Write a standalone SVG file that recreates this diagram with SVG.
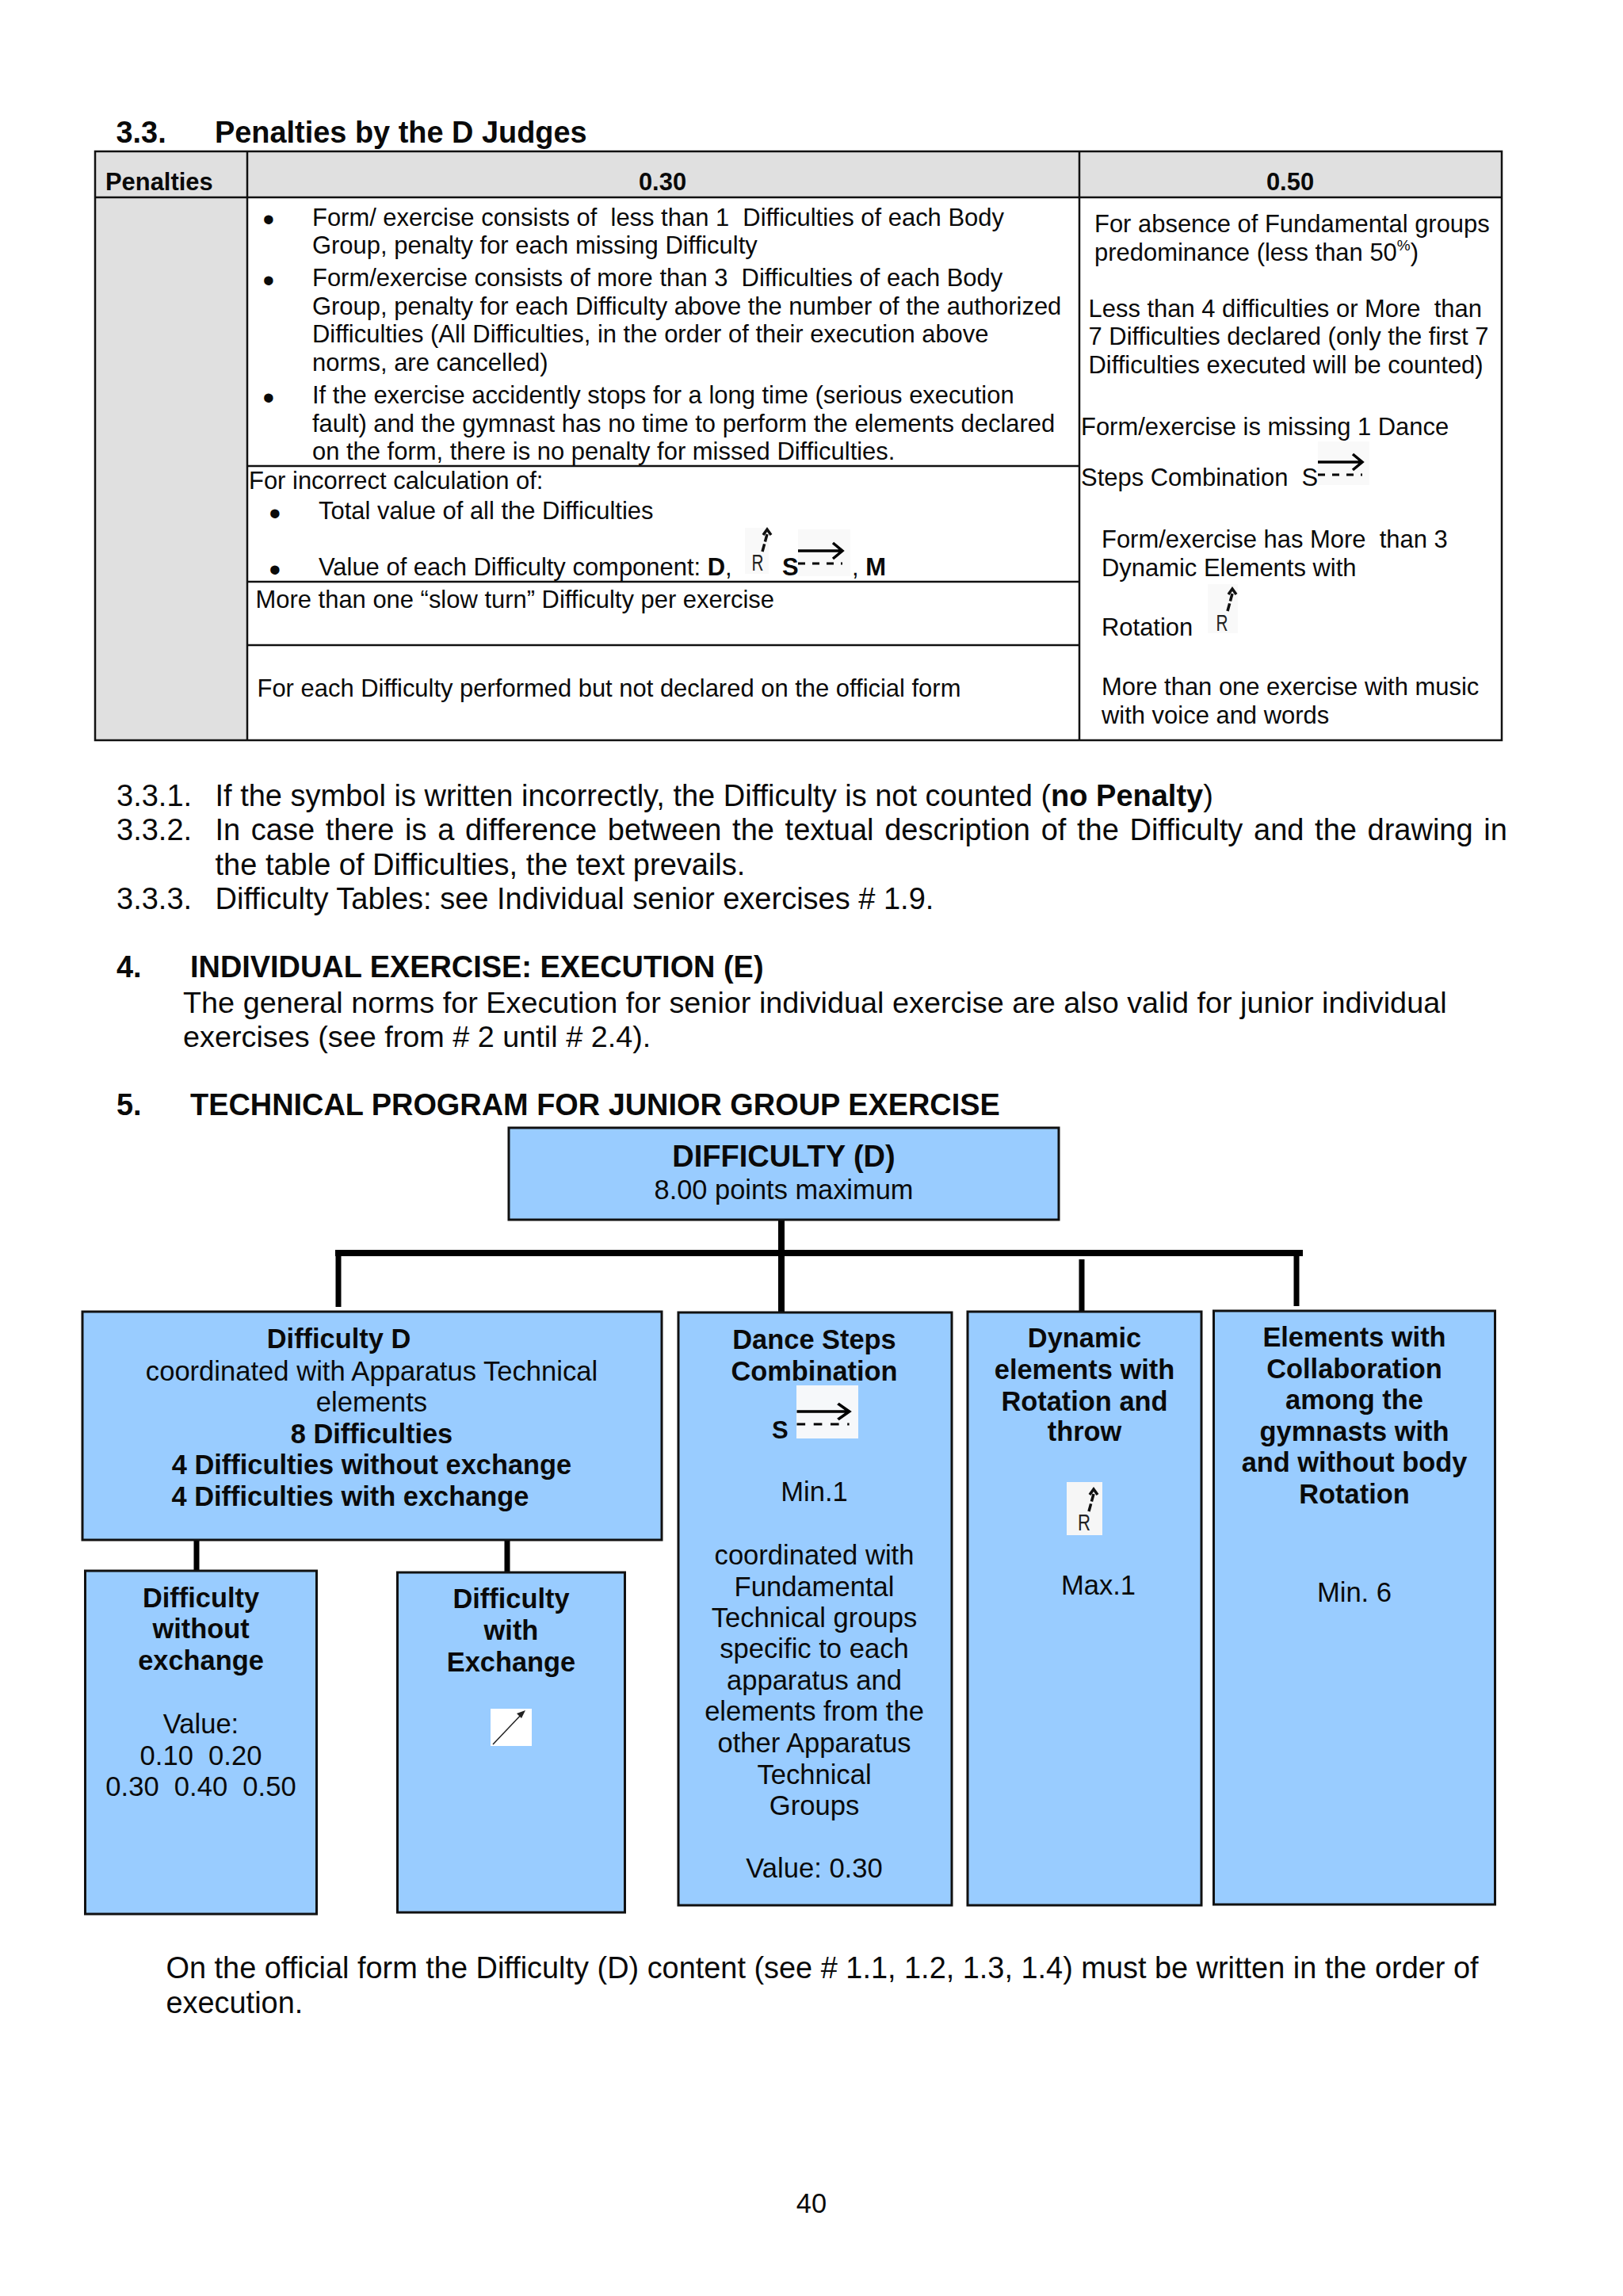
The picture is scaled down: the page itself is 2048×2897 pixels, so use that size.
<svg xmlns="http://www.w3.org/2000/svg" width="2048" height="2897" viewBox="0 0 2048 2897">
<style>
text{font-family:"Liberation Sans",Arial,sans-serif;fill:#0a0a0a;white-space:pre}
.t{font-size:30.95px}
.bu{font-size:42px}
.th{font-size:30.9px;font-weight:bold}
.h{font-size:37.9px;font-weight:bold}
.p{font-size:37.9px}
.n{font-size:38px}
.c{font-size:34.6px;text-anchor:middle}
.cb{font-size:34.4px;font-weight:bold;text-anchor:middle}
.b{font-weight:bold}
.m{text-anchor:middle}
.box{fill:#99ccff;stroke:#111;stroke-width:3}
.grid{stroke:#111;stroke-width:2.5;fill:none}
.hd{fill:#e0e0e0}
.conn{stroke:#000;fill:none}
.sym{stroke:#000;fill:none;stroke-width:3.5}
.dash{stroke:#000;fill:none;stroke-width:3;stroke-dasharray:9 9}
.rot{stroke:#111;fill:none;stroke-width:3.5;stroke-dasharray:10 3}
.rhead{stroke:#111;fill:none;stroke-width:3.5}
.patch{fill:#f9f9f9}
.r{font-size:30px;fill:#222}
</style>
<rect width="2048" height="2897" fill="#fff"/>
<defs>
<g id="stepArrow"><path class="sym" d="M0 0H56M44 -10L56 0L44 10"/><path class="dash" d="M0 16H56"/></g>
<g id="rotArrow"><path class="rot" d="M0 0L6 -22"/><path class="rhead" d="M1 -21L6 -28L11 -21"/></g>
</defs>

<g id="heading-33">
<text class="h" x="146.500" y="180">3.3.</text>
<text class="h" x="271" y="180">Penalties by the D Judges</text>
</g>

<g id="penalty-table">
<rect class="hd" x="120" y="191" width="1775" height="58"/>
<rect class="hd" x="120" y="249" width="192" height="685"/>
<path class="grid" d="M120 191H1895V934H120ZM120 249H1895M312 191V934M1362 191V934M312 588H1362M312 734H1362M312 814H1362"/>
<text class="th" x="133" y="240">Penalties</text>
<text class="th m" x="836" y="240">0.30</text>
<text class="th m" x="1628" y="240">0.50</text>

<text class="bu" x="331.600" y="290.500">•</text>
<text class="t" x="394" y="284.500">Form/ exercise consists of  less than 1  Difficulties of each Body</text>
<text class="t" x="394" y="320">Group, penalty for each missing Difficulty</text>
<text class="bu" x="331.600" y="367.500">•</text>
<text class="t" x="394" y="361">Form/exercise consists of more than 3  Difficulties of each Body</text>
<text class="t" x="394" y="397">Group, penalty for each Difficulty above the number of the authorized</text>
<text class="t" x="394" y="432">Difficulties (All Difficulties, in the order of their execution above</text>
<text class="t" x="394" y="468">norms, are cancelled)</text>
<text class="bu" x="331.600" y="515.500">•</text>
<text class="t" x="394" y="509">If the exercise accidently stops for a long time (serious execution</text>
<text class="t" x="394" y="545">fault) and the gymnast has no time to perform the elements declared</text>
<text class="t" x="394" y="580">on the form, there is no penalty for missed Difficulties.</text>
<text class="t" x="314" y="617">For incorrect calculation of:</text>
<text class="bu" x="339.600" y="661.500">•</text>
<text class="t" x="402" y="655">Total value of all the Difficulties</text>
<text class="bu" x="339.600" y="732.500">•</text>
<text class="t" x="402" y="726">Value of each Difficulty component: <tspan class="b">D</tspan>,</text>
<rect class="patch" x="940" y="666" width="30" height="58"/>
<text class="r" x="948.500" y="720" textLength="15" lengthAdjust="spacingAndGlyphs">R</text>
<use href="#rotArrow" x="962" y="696"/>
<rect class="patch" x="1007" y="668" width="66" height="59"/>
<text class="t b" x="987" y="726">S</text>
<use href="#stepArrow" x="1007" y="695"/>
<text class="t" x="1075" y="726">, <tspan class="b">M</tspan></text>
<text class="t" x="322.500" y="767">More than one “slow turn” Difficulty per exercise</text>
<text class="t" x="324.500" y="879">For each Difficulty performed but not declared on the official form</text>

<text class="t" x="1381" y="293">For absence of Fundamental groups</text>
<text class="t" x="1381" y="329">predominance (less than 50<tspan font-size="19" dy="-13">%</tspan><tspan dy="13">)</tspan></text>
<text class="t" x="1373.500" y="399.500">Less than 4 difficulties or More  than</text>
<text class="t" x="1373.500" y="435">7 Difficulties declared (only the first 7</text>
<text class="t" x="1373.500" y="471">Difficulties executed will be counted)</text>
<text class="t" x="1364" y="549">Form/exercise is missing 1 Dance</text>
<text class="t" x="1364" y="613">Steps Combination  S</text>
<rect class="patch" x="1663" y="557" width="65" height="55"/>
<use href="#stepArrow" x="1663" y="583"/>
<text class="t" x="1390" y="691">Form/exercise has More  than 3</text>
<text class="t" x="1390" y="727">Dynamic Elements with</text>
<text class="t" x="1390" y="802">Rotation</text>
<rect class="patch" x="1524" y="737" width="38" height="62"/>
<text class="r" x="1534.500" y="796" textLength="15" lengthAdjust="spacingAndGlyphs">R</text>
<use href="#rotArrow" x="1549" y="771"/>
<text class="t" x="1390" y="876.500">More than one exercise with music</text>
<text class="t" x="1390" y="913">with voice and words</text>
</g>

<g id="notes">
<text class="n" x="147" y="1017">3.3.1.</text>
<text class="n" x="271.500" y="1017">If the symbol is written incorrectly, the Difficulty is not counted (<tspan class="b">no Penalty</tspan>)</text>
<text class="n" x="147" y="1060">3.3.2.</text>
<text class="n" x="271.500" y="1060" word-spacing="3.1">In case there is a difference between the textual description of the Difficulty and the drawing in</text>
<text class="n" x="271.500" y="1104">the table of Difficulties, the text prevails.</text>
<text class="n" x="147" y="1147">3.3.3.</text>
<text class="n" x="271.500" y="1147">Difficulty Tables: see Individual senior exercises # 1.9.</text>
</g>

<g id="section-4">
<text class="h" x="147" y="1233">4.</text>
<text class="h" x="240" y="1233">INDIVIDUAL EXERCISE: EXECUTION (E)</text>
<text class="p" style="font-size:37.8px" x="231" y="1278">The general norms for Execution for senior individual exercise are also valid for junior individual</text>
<text class="p" style="font-size:37.8px" x="231" y="1321">exercises (see from # 2 until # 2.4).</text>
</g>

<g id="section-5">
<text class="h" x="147" y="1407">5.</text>
<text class="h" x="240" y="1407">TECHNICAL PROGRAM FOR JUNIOR GROUP EXERCISE</text>
</g>

<g id="connectors">
<path class="conn" stroke-width="8" d="M423 1581H1644"/>
<path class="conn" stroke-width="8" d="M986 1533V1663"/>
<path class="conn" stroke-width="7" d="M427 1578V1649M1365 1589V1656M1636 1578V1648"/>
<path class="conn" stroke-width="7" d="M248 1943V1987M640 1943V1990"/>
</g>

<g id="node-difficulty">
<rect class="box" x="642" y="1423" width="694" height="116"/>
<text class="m" style="font-size:38px;font-weight:bold" x="989" y="1472">DIFFICULTY (D)</text>
<text class="c" style="font-size:34.4px" x="989" y="1513">8.00 points maximum</text>
</g>

<g id="node-difficulty-d">
<rect class="box" x="104" y="1655" width="731" height="288"/>
<text class="cb" x="427.500" y="1701">Difficulty D</text>
<text class="c" x="469" y="1741.500">coordinated with Apparatus Technical</text>
<text class="c" x="469" y="1781">elements</text>
<text class="cb" x="469" y="1820.500">8 Difficulties</text>
<text class="cb" x="469" y="1860">4 Difficulties without exchange</text>
<text class="cb" x="442" y="1900">4 Difficulties with exchange</text>
</g>

<g id="node-without-exchange">
<rect class="box" x="107.500" y="1982" width="292" height="433"/>
<text class="cb" x="253.500" y="2028">Difficulty</text>
<text class="cb" x="253.500" y="2067">without</text>
<text class="cb" x="253.500" y="2107">exchange</text>
<text class="c" x="253.500" y="2187">Value:</text>
<text class="c" x="253.500" y="2227">0.10  0.20</text>
<text class="c" x="253.500" y="2266">0.30  0.40  0.50</text>
</g>

<g id="node-with-exchange">
<rect class="box" x="501.500" y="1984" width="287" height="429"/>
<text class="cb" x="645" y="2029">Difficulty</text>
<text class="cb" x="645" y="2069">with</text>
<text class="cb" x="645" y="2109">Exchange</text>
<rect x="619" y="2156" width="52" height="47" fill="#fff"/>
<path d="M622 2201L660 2161" stroke="#222" stroke-width="1.500" fill="none"/>
<path d="M663 2158L652 2162L658 2168Z" fill="#222"/>
</g>

<g id="node-dance-steps">
<rect class="box" x="856" y="1656" width="345" height="748"/>
<text class="cb" x="1027.500" y="1702">Dance Steps</text>
<text class="cb" x="1027.500" y="1742">Combination</text>
<rect x="1005" y="1748" width="78" height="67" fill="#f6f8fa"/>
<text class="b" style="font-size:31px" x="974" y="1815">S</text>
<use href="#stepArrow" transform="translate(1005.500 1781) scale(1.18 1)"/>
<text class="c" x="1027.500" y="1894">Min.1</text>
<text class="c" x="1027.500" y="1974">coordinated with</text>
<text class="c" x="1027.500" y="2013.500">Fundamental</text>
<text class="c" x="1027.500" y="2053">Technical groups</text>
<text class="c" x="1027.500" y="2092">specific to each</text>
<text class="c" x="1027.500" y="2131.500">apparatus and</text>
<text class="c" x="1027.500" y="2171">elements from the</text>
<text class="c" x="1027.500" y="2211">other Apparatus</text>
<text class="c" x="1027.500" y="2251">Technical</text>
<text class="c" x="1027.500" y="2290">Groups</text>
<text class="c" x="1027.500" y="2369">Value: 0.30</text>
</g>

<g id="node-dynamic">
<rect class="box" x="1221" y="1655" width="295" height="749"/>
<text class="cb" x="1368.500" y="1700">Dynamic</text>
<text class="cb" x="1368.500" y="1740">elements with</text>
<text class="cb" x="1368.500" y="1780">Rotation and</text>
<text class="cb" x="1368.500" y="1818">throw</text>
<rect x="1346" y="1870" width="45" height="67" fill="#f6f6f6"/>
<text class="r" x="1360" y="1931" textLength="16" lengthAdjust="spacingAndGlyphs">R</text>
<use href="#rotArrow" x="1374" y="1907"/>
<text class="c" x="1386" y="2012">Max.1</text>
</g>

<g id="node-elements">
<rect class="box" x="1531.500" y="1654" width="355" height="749"/>
<text class="cb" x="1709" y="1699">Elements with</text>
<text class="cb" x="1709" y="1739">Collaboration</text>
<text class="cb" x="1709" y="1778">among the</text>
<text class="cb" x="1709" y="1818">gymnasts with</text>
<text class="cb" x="1709" y="1857">and without body</text>
<text class="cb" x="1709" y="1897">Rotation</text>
<text class="c" x="1709" y="2021">Min. 6</text>
</g>

<g id="footer">
<text class="p" x="209.500" y="2496">On the official form the Difficulty (D) content (see # 1.1, 1.2, 1.3, 1.4) must be written in the order of</text>
<text class="p" x="209.500" y="2540">execution.</text>
<text class="m" style="font-size:34.4px" x="1024" y="2792">40</text>
</g>
</svg>
